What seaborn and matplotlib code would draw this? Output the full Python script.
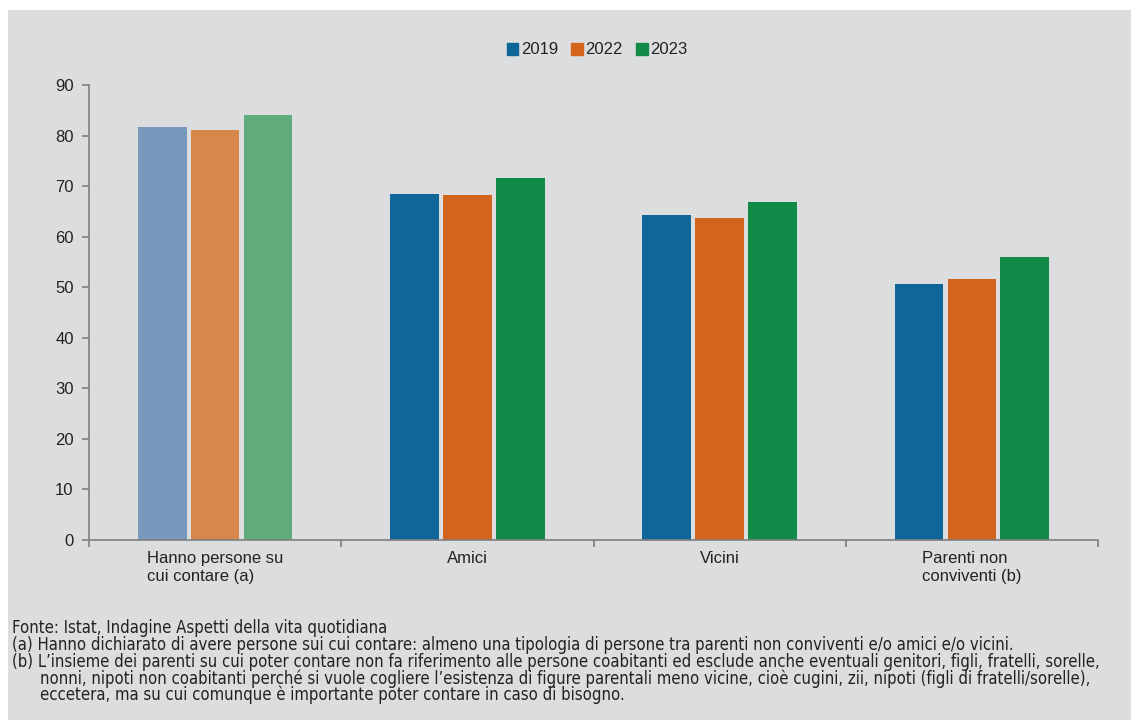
import matplotlib
matplotlib.use("Agg")
import matplotlib.pyplot as plt
from matplotlib.patches import Rectangle
import pandas as pd
import seaborn as sns

categorie = ["Hanno persone su\ncui contare (a)", "Amici", "Vicini", "Parenti non\nconviventi (b)"]
anni = ["2019", "2022", "2023"]
val_2019 = [81.7, 68.5, 64.2, 50.6]
val_2022 = [81.1, 68.2, 63.7, 51.7]
val_2023 = [84.1, 71.6, 66.8, 56.0]
colori = ["#0E6699", "#D2641E", "#128A48"]
colori_chiari = ["#7799BB", "#D8874C", "#5FAB7C"]

note = [
    "Fonte: Istat, Indagine Aspetti della vita quotidiana",
    "(a) Hanno dichiarato di avere persone sui cui contare: almeno una tipologia di persone tra parenti non conviventi e/o amici e/o vicini.",
    "(b) L\u2019insieme dei parenti su cui poter contare non fa riferimento alle persone coabitanti ed esclude anche eventuali genitori, figli, fratelli, sorelle,",
    "nonni, nipoti non coabitanti perch\u00e9 si vuole cogliere l\u2019esistenza di figure parentali meno vicine, cio\u00e8 cugini, zii, nipoti (figli di fratelli/sorelle),",
    "eccetera, ma su cui comunque \u00e8 importante poter contare in caso di bisogno.",
]

df = pd.DataFrame({
    "categoria": categorie * 3,
    "anno": [a for a in anni for _ in categorie],
    "valore": val_2019 + val_2022 + val_2023,
})

bg = "#DCDDDF"
sns.set_style("white")
plt.rcParams["font.family"] = ["Liberation Sans", "DejaVu Sans"]

fig = plt.figure(figsize=(11.31, 7.2), dpi=100)
fig.patch.set_facecolor("white")
fig.add_artist(Rectangle((8 / 1131, 0), 1, 1 - 10 / 720, transform=fig.transFigure,
                         facecolor=bg, edgecolor="none", zorder=-10))

ax = fig.add_axes([89 / 1131, 180 / 720, 1009 / 1131, 455 / 720])
ax.set_facecolor(bg)

sns.barplot(data=df, x="categoria", y="valore", hue="anno", palette=colori,
            saturation=1, width=0.63, gap=0.08, linewidth=0, ax=ax, legend=True)

# first group drawn lighter
for cont, c in zip(ax.containers, colori_chiari):
    cont.patches[0].set_facecolor(c)

ax.set_ylim(0, 90)
ax.set_xlim(-0.5, 3.5)
ax.set_yticks(range(0, 91, 10))
ax.set_xlabel("")
ax.set_ylabel("")

for s in ["top", "right"]:
    ax.spines[s].set_visible(False)
for s in ["left", "bottom"]:
    ax.spines[s].set_color("#7F7F7F")
    ax.spines[s].set_linewidth(1.2)

ax.tick_params(axis="y", left=True, length=5, width=1.2, color="#7F7F7F",
               labelsize=12, labelcolor="#222222", pad=6)
ax.tick_params(axis="x", which="major", length=0, labelsize=12, labelcolor="#222222", pad=8)
ax.set_xticks([-0.5, 0.5, 1.5, 2.5, 3.5], minor=True)
ax.tick_params(axis="x", which="minor", bottom=True, length=5, color="#7F7F7F", width=1.2)
for lab in ax.get_xticklabels():
    lab.set_multialignment("left")

ax.get_legend().remove()
handles = [Rectangle((0, 0), 1, 1, color=c) for c in colori]
fig.legend(handles, anni, loc="center", bbox_to_anchor=(0.528, 1 - 50 / 720), ncol=3,
           frameon=False, fontsize=12, handlelength=0.7, handleheight=0.7,
           handletextpad=0.15, columnspacing=0.8, labelcolor="#222222")

for i, riga in enumerate(note):
    x = 40 if i >= 3 else 12
    fig.text(x / 1131, 1 - (628 + 16.8 * i) / 720, riga, fontsize=12, family="DejaVu Sans",
             fontstretch="condensed", color="#222222", va="center", ha="left")

fig.savefig("out.png", dpi=100, facecolor="white")
